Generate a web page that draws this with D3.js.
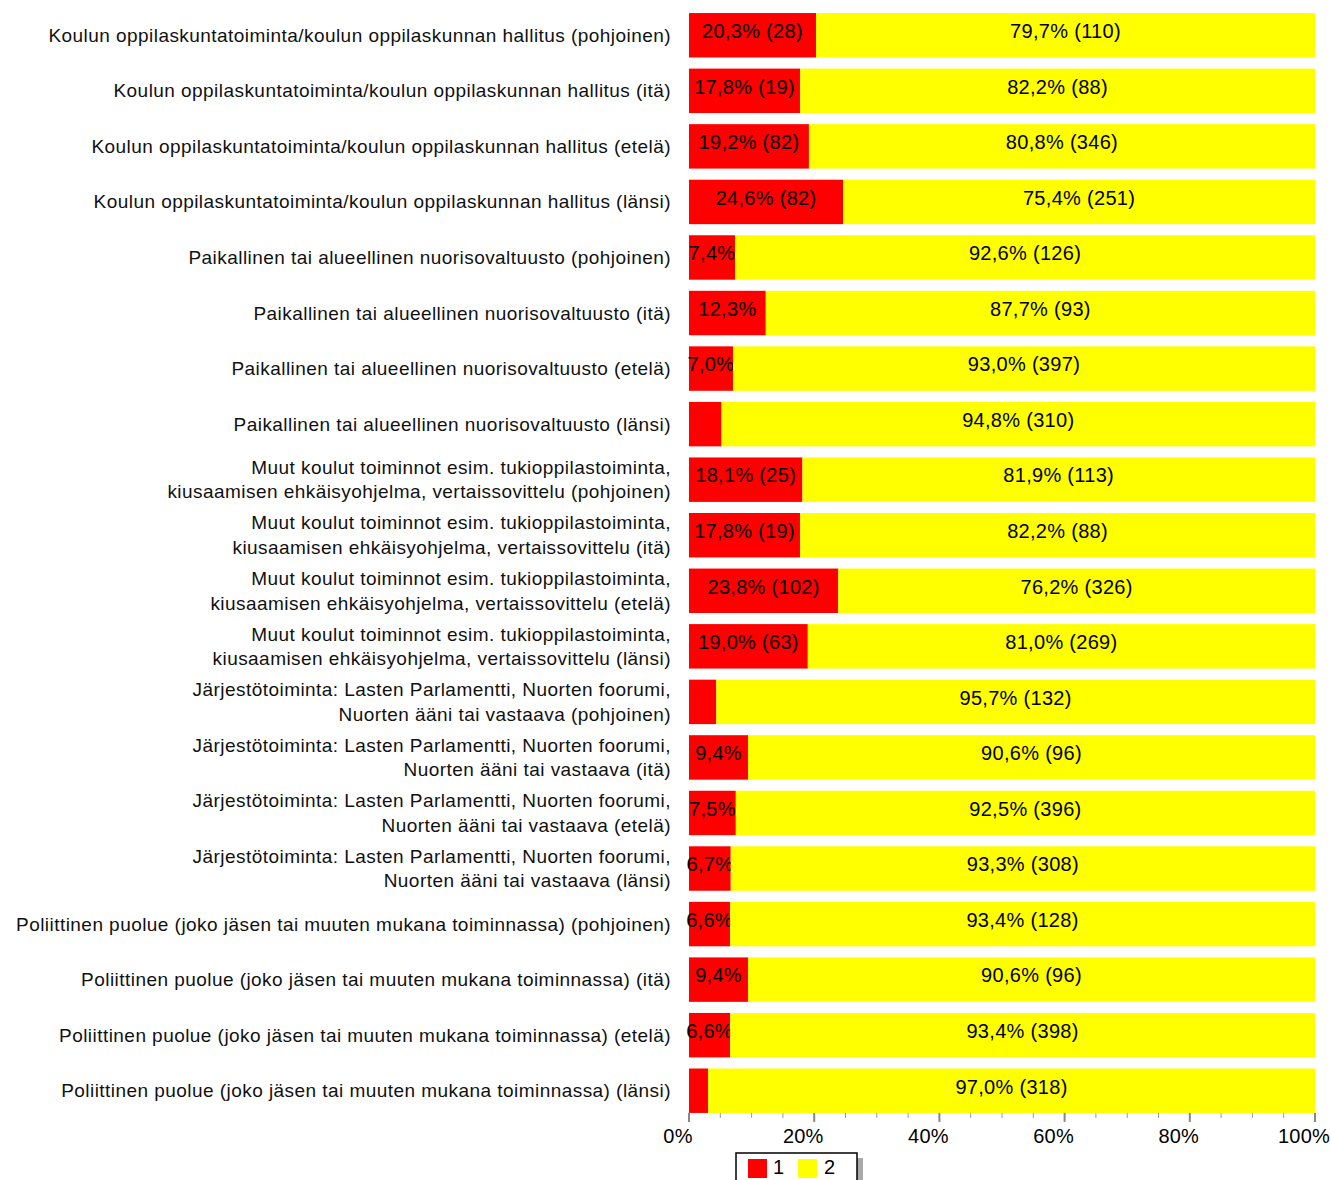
<!DOCTYPE html>
<html>
<head>
<meta charset="utf-8">
<script src="https://cdn.jsdelivr.net/npm/d3@7"></script>
<style>
  body { margin: 0; background: #fff; }
  #chart { width: 1331px; height: 1180px; }
  text { font-family: "Liberation Sans", Arial, sans-serif; fill: #000; }
</style>
</head>
<body>
<div id="chart"></div>
<script>
// row labels (line breaks with \n)
const labels = [
  "Koulun oppilaskuntatoiminta/koulun oppilaskunnan hallitus (pohjoinen)",
  "Koulun oppilaskuntatoiminta/koulun oppilaskunnan hallitus (itä)",
  "Koulun oppilaskuntatoiminta/koulun oppilaskunnan hallitus (etelä)",
  "Koulun oppilaskuntatoiminta/koulun oppilaskunnan hallitus (länsi)",
  "Paikallinen tai alueellinen nuorisovaltuusto (pohjoinen)",
  "Paikallinen tai alueellinen nuorisovaltuusto (itä)",
  "Paikallinen tai alueellinen nuorisovaltuusto (etelä)",
  "Paikallinen tai alueellinen nuorisovaltuusto (länsi)",
  "Muut koulut toiminnot esim. tukioppilastoiminta,\nkiusaamisen ehkäisyohjelma, vertaissovittelu (pohjoinen)",
  "Muut koulut toiminnot esim. tukioppilastoiminta,\nkiusaamisen ehkäisyohjelma, vertaissovittelu (itä)",
  "Muut koulut toiminnot esim. tukioppilastoiminta,\nkiusaamisen ehkäisyohjelma, vertaissovittelu (etelä)",
  "Muut koulut toiminnot esim. tukioppilastoiminta,\nkiusaamisen ehkäisyohjelma, vertaissovittelu (länsi)",
  "Järjestötoiminta: Lasten Parlamentti, Nuorten foorumi,\nNuorten ääni tai vastaava (pohjoinen)",
  "Järjestötoiminta: Lasten Parlamentti, Nuorten foorumi,\nNuorten ääni tai vastaava (itä)",
  "Järjestötoiminta: Lasten Parlamentti, Nuorten foorumi,\nNuorten ääni tai vastaava (etelä)",
  "Järjestötoiminta: Lasten Parlamentti, Nuorten foorumi,\nNuorten ääni tai vastaava (länsi)",
  "Poliittinen puolue (joko jäsen tai muuten mukana toiminnassa) (pohjoinen)",
  "Poliittinen puolue (joko jäsen tai muuten mukana toiminnassa) (itä)",
  "Poliittinen puolue (joko jäsen tai muuten mukana toiminnassa) (etelä)",
  "Poliittinen puolue (joko jäsen tai muuten mukana toiminnassa) (länsi)"
];

// answer counts
const count1 = [28, 19, 82, 82, 10, 13, 30, 17, 25, 19, 102, 63, 6, 10, 32, 22, 9, 10, 28, 10];
const count2 = [110, 88, 346, 251, 126, 93, 397, 310, 113, 88, 326, 269, 132, 96, 396, 308, 128, 96, 398, 318];

const seriesNames = ["1", "2"];
const seriesColors = ["#ff0000", "#ffff00"];
const tickValues = [0, 0.2, 0.4, 0.6, 0.8, 1];

const W = 1331, H = 1180;
const margin = { left: 689, right: 16, top: 7.5, bottom: 61.5 };

const svg = d3.select("#chart").append("svg")
  .attr("width", W)
  .attr("height", H);

const x = d3.scaleLinear()
  .domain([0, 1])
  .range([margin.left, W - margin.right]);

const y = d3.scaleBand()
  .domain(d3.range(labels.length))
  .range([margin.top, H - margin.bottom])
  .paddingInner(0.2)
  .paddingOuter(0.1);

const rows = labels.map((l, i) => {
  const total = count1[i] + count2[i];
  return { i, label: l, vals: [count1[i], count2[i]], total };
});

const fmt = v => (Math.round(v * 1000) / 10).toFixed(1).replace(".", ",") + "%";

// bars
const rowG = svg.append("g")
  .selectAll("g")
  .data(rows)
  .join("g");

rowG.each(function (d) {
  const g = d3.select(this);
  let acc = 0;
  d.vals.forEach((v, k) => {
    const p = v / d.total;
    const x0 = x(acc), x1 = x(acc + p);
    acc += p;
    g.append("rect")
      .attr("x", x0)
      .attr("y", y(d.i))
      .attr("width", x1 - x0)
      .attr("height", y.bandwidth())
      .attr("fill", seriesColors[k]);

    const t = g.append("text")
      .attr("x", (x0 + x1) / 2)
      .attr("y", y(d.i) + y.bandwidth() / 2 - 2.5)
      .attr("text-anchor", "middle")
      .attr("dominant-baseline", "middle")
      .style("font-size", "20px")
      .style("letter-spacing", "0.3px")
      .text(fmt(p) + " (" + v + ")");
    if (t.node().getComputedTextLength() > (x1 - x0)) {
      if (p >= 0.06) t.text(fmt(p));
      else t.remove();
    }
  });
});

// left labels
const lab = svg.append("g")
  .selectAll("text")
  .data(rows)
  .join("text")
  .attr("text-anchor", "end")
  .style("font-size", "19px")
  .style("letter-spacing", "0.45px")
  .style("fill", "#111");

lab.each(function (d) {
  const lines = d.label.split("\n");
  const t = d3.select(this);
  const cy = y(d.i) + y.bandwidth() / 2 + 1.5;
  const lh = 24.5;
  lines.forEach((ln, j) => {
    t.append("tspan")
      .attr("x", 671)
      .attr("y", cy + (j - (lines.length - 1) / 2) * lh)
      .attr("dominant-baseline", "middle")
      .text(ln);
  });
});

// x axis
const axisY = y(labels.length - 1) + y.bandwidth();
const axisG = svg.append("g");

axisG.selectAll("line.minor")
  .data(d3.range(0, 1.0001, 0.05))
  .join("line")
  .attr("x1", d => x(d)).attr("x2", d => x(d))
  .attr("y1", axisY).attr("y2", axisY + 5)
  .attr("stroke", "#999")
  .attr("stroke-width", 1);

axisG.selectAll("line.major")
  .data(tickValues)
  .join("line")
  .attr("x1", d => x(d)).attr("x2", d => x(d))
  .attr("y1", axisY).attr("y2", axisY + 9)
  .attr("stroke", "#888")
  .attr("stroke-width", 2);

axisG.selectAll("text")
  .data(tickValues)
  .join("text")
  .attr("x", d => x(d) - 11)
  .attr("y", axisY + 25)
  .attr("text-anchor", "middle")
  .attr("dominant-baseline", "middle")
  .style("font-size", "20px")
  .style("letter-spacing", "0.2px")
  .text(d => Math.round(d * 100) + "%");

// legend
const lg = svg.append("g").attr("transform", "translate(736,1153)");
lg.append("rect")
  .attr("x", 5).attr("y", 5).attr("width", 122).attr("height", 40)
  .attr("fill", "#aaa");
lg.append("rect")
  .attr("x", 0).attr("y", 0).attr("width", 121).attr("height", 40)
  .attr("fill", "#fff")
  .attr("stroke", "#000")
  .attr("stroke-width", 1.5);
seriesNames.forEach((s, k) => {
  lg.append("rect")
    .attr("x", 12 + k * 50).attr("y", 6)
    .attr("width", 19).attr("height", 19)
    .attr("fill", seriesColors[k]);
  lg.append("text")
    .attr("x", 37 + k * 51).attr("y", 16)
    .attr("dominant-baseline", "middle")
    .style("font-size", "20px")
    .text(s);
});
</script>
</body>
</html>
